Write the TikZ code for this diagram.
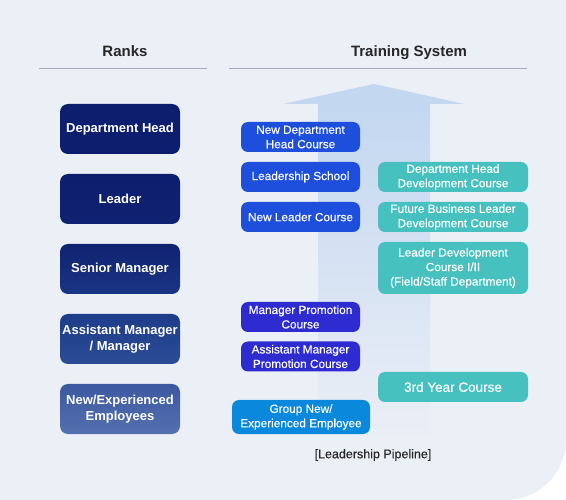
\documentclass[tikz,border=0pt]{standalone}
\usepackage{fontspec}
\setmainfont{Liberation Sans}
\newfontfamily\moyen[FakeBold=0.35]{Liberation Sans}
\usetikzlibrary{calc}

\definecolor{fond}{HTML}{EBEFF6}
\definecolor{trait}{HTML}{A3ABBE}
\definecolor{fleche}{HTML}{C3D7F0}
\definecolor{bleu}{HTML}{1E4FDC}
\definecolor{violet}{HTML}{2E2BD0}
\definecolor{ciel}{HTML}{0A88DC}
\definecolor{sarcelle}{HTML}{46C1C0}
\definecolor{rA}{HTML}{0E1E6E}
\definecolor{rB}{HTML}{0F2172}
\definecolor{rC}{HTML}{0F2270}
\definecolor{rD}{HTML}{1A3585}
\definecolor{rE}{HTML}{1E3C8A}
\definecolor{rF}{HTML}{2C4C95}
\definecolor{rG}{HTML}{3C58A0}
\definecolor{rH}{HTML}{5570AF}

\tikzset{
  rang/.style={rounded corners=8pt, minimum width=120pt, minimum height=50pt, inner sep=0pt,
    align=center, text=white, font=\bfseries\fontsize{13}{16}\selectfont},
  cours/.style={rounded corners=7pt, minimum height=30pt, inner sep=0pt,
    align=center, text=white, font=\moyen\fontsize{11.8}{14.5}\selectfont},
  titre/.style={anchor=base, font=\bfseries\fontsize{15}{17}\selectfont, text=black!85},
}

\begin{document}
\begin{tikzpicture}[x=1pt,y=-1pt]
\useasboundingbox (0,0) rectangle (566,500);
\fill[white] (0,0) rectangle (566,500);
\fill[fond] (0,0) -- (566,0) -- (566,440) .. controls (566,473.1) and (539.1,500) .. (506,500) -- (0,500) -- cycle;

% en-tetes
\node[titre] (ranks) at (125,57) {Ranks};
\node[titre] (systeme) at (409,57) {Training System};
\draw[trait, line width=1pt] (39,69) -- (207,69);
\draw[trait, line width=1pt] (229,69) -- (527,69);

% fleche du pipeline
\fill[fleche] (283,104) -- (374,84) -- (464,104) -- cycle;
\shade[top color=fleche, middle color=fleche!70!fond, bottom color=fond] (318,103.5) rectangle (430,440);

% rangs
\foreach \y/\haut/\bas/\txt [count=\i] in {129/rA/rA/{Department Head}, 199/rA/rB/{Leader},
  269/rC/rD/{Senior Manager}, 339/rE/rF/{Assistant Manager\\/ Manager}, 409/rG/rH/{New/Experienced\\Employees}} {
  \node[rang, top color=\haut, bottom color=\bas] (rang\i) at (120,\y) {\txt};
}

% cours
\node[cours, fill=bleu, minimum width=119pt] (ndh) at (300.5,137) {New Department\\Head Course};
\node[cours, fill=bleu, minimum width=119pt] (ecole) at (300.5,177) {Leadership School};
\node[cours, fill=bleu, minimum width=119pt] (nlc) at (300.5,217) {New Leader Course};
\node[cours, fill=violet, minimum width=119pt] (mpc) at (300.5,317) {Manager Promotion\\Course};
\node[cours, fill=violet, minimum width=119pt] (ampc) at (300.5,356.5) {Assistant Manager\\Promotion Course};
\node[cours, fill=ciel, minimum width=138pt, minimum height=34pt] (groupe) at (301,417) {Group New/\\Experienced Employee};

\node[cours, fill=sarcelle, minimum width=150pt] (dhd) at (453,177) {Department Head\\Development Course};
\node[cours, fill=sarcelle, minimum width=150pt] (fbl) at (453,217) {Future Business Leader\\Development Course};
\node[cours, fill=sarcelle, minimum width=150pt, minimum height=52pt] (ldc) at (453,268) {Leader Development\\Course I/II\\(Field/Staff Department)};
\node[cours, fill=sarcelle, minimum width=150pt, font=\moyen\fontsize{13.5}{16}\selectfont] (tyc) at (453,387) {3rd Year Course};

\node[font=\moyen\fontsize{12.5}{14}\selectfont, text=black!85] (pipeline) at (373,455) {[Leadership Pipeline]};
\end{tikzpicture}
\end{document}
